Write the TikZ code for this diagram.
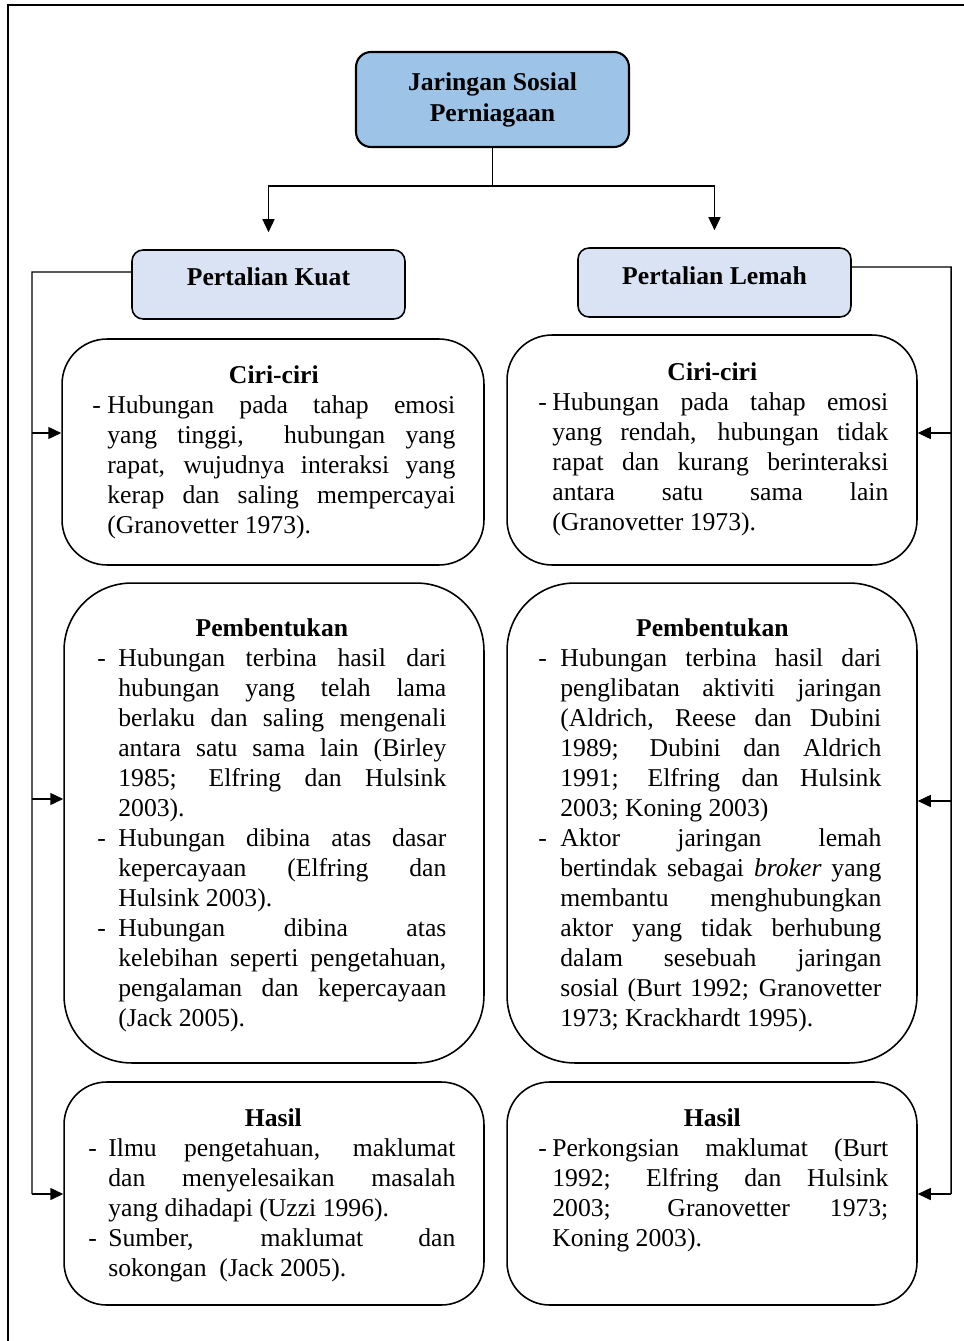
\documentclass[tikz,border=0pt]{standalone}
\usepackage{fontspec}
\setmainfont{Liberation Serif}
\usetikzlibrary{arrows.meta}
\newdimen\pxu \pxu=0.02cm
\newcommand{\jline}[2]{\makebox[#1\pxu][s]{#2}}
\newcommand{\dsh}[1]{\makebox[#1\pxu][l]{-}}
\newcommand{\ind}[1]{\hspace*{#1\pxu}}
\newcommand{\ttl}[2]{\makebox[#1\pxu][c]{\strut\bfseries #2}}
\definecolor{topblue}{HTML}{9DC3E6}
\definecolor{paleblue}{HTML}{DAE3F3}
\begin{document}
\begin{tikzpicture}[x=0.02cm,y=-0.02cm,
  fnt/.style={font=\fontsize{14.6}{17.07}\selectfont},
  conn/.style={draw=black,line width=0.85pt},
  arr/.style={conn,-{Triangle[length=0.26cm,width=0.24cm]}},
  topbox/.style={draw=black,line width=1.2pt,fill=topblue,rounded corners=0.3cm,minimum width=5.46cm,minimum height=1.9cm,align=center,fnt,font=\fontsize{14.6}{17.6}\selectfont\bfseries},
  pbox/.style={draw=black,line width=0.9pt,fill=paleblue,rounded corners=0.22cm,minimum width=5.46cm,minimum height=1.38cm},
  cbox/.style={draw=black,line width=0.9pt,rounded corners=#1},
  txt/.style={fnt,align=left,inner sep=0pt,anchor=north west}]
\useasboundingbox (0,0) rectangle (963,1341);
\draw[line width=1.2pt] (8,1360) -- (8,5) -- (980,5);

\node[topbox] (top) at (492.5,99.5) {Jaringan Sosial\\Perniagaan};

\node[pbox] (kuat) at (268.5,284.5) {};
\node[fnt,font=\fontsize{14.6}{17.07}\selectfont\bfseries] (kuatT) at (268.5,277) {Pertalian Kuat};
\node[pbox] (lemah) at (714.5,282.5) {};
\node[fnt,font=\fontsize{14.6}{17.07}\selectfont\bfseries] (lemahT) at (714.5,276) {Pertalian Lemah};

% content boxes
\node[cbox=0.9cm,minimum width=8.44cm,minimum height=4.52cm] (ciriL) at (273,452) {};
\node[cbox=1.35cm,minimum width=8.4cm,minimum height=9.6cm] (pembL) at (274,823) {};
\node[cbox=0.85cm,minimum width=8.4cm,minimum height=4.46cm] (hasilL) at (274,1193.5) {};
\node[cbox=0.9cm,minimum width=8.2cm,minimum height=4.6cm] (ciriR) at (712,450) {};
\node[cbox=1.35cm,minimum width=8.2cm,minimum height=9.6cm] (pembR) at (712,823) {};
\node[cbox=0.85cm,minimum width=8.2cm,minimum height=4.46cm] (hasilR) at (712,1193.5) {};

% texts
\node[txt] (tCL) at (92,362) {\ttl{363}{Ciri-ciri}\\
\dsh{15}\jline{348}{Hubungan pada tahap emosi}\\
\ind{15}\jline{348}{yang tinggi,\ \ hubungan yang}\\
\ind{15}\jline{348}{rapat, wujudnya interaksi yang}\\
\ind{15}\jline{348}{kerap dan saling mempercayai}\\
\ind{15}(Granovetter 1973).};

\node[txt] (tPL) at (97,615) {\ttl{349}{Pembentukan}\\
\dsh{21}\jline{328}{Hubungan terbina hasil dari}\\
\ind{21}\jline{328}{hubungan yang telah lama}\\
\ind{21}\jline{328}{berlaku dan saling mengenali}\\
\ind{21}\jline{328}{antara satu sama lain (Birley}\\
\ind{21}\jline{328}{1985; Elfring dan Hulsink}\\
\ind{21}2003).\\
\dsh{21}\jline{328}{Hubungan dibina atas dasar}\\
\ind{21}\jline{328}{kepercayaan (Elfring dan}\\
\ind{21}Hulsink 2003).\\
\dsh{21}\jline{328}{Hubungan dibina atas}\\
\ind{21}\jline{328}{kelebihan seperti pengetahuan,}\\
\ind{21}\jline{328}{pengalaman dan kepercayaan}\\
\ind{21}(Jack 2005).};

\node[txt] (tHL) at (88,1105) {\ttl{370}{Hasil}\\
\dsh{20}\jline{347}{Ilmu pengetahuan, maklumat}\\
\ind{20}\jline{347}{dan menyelesaikan masalah}\\
\ind{20}yang dihadapi (Uzzi 1996).\\
\dsh{20}\jline{347}{Sumber, maklumat dan}\\
\ind{20}sokongan\ \ (Jack 2005).};

\node[txt] (tCR) at (538,359) {\ttl{348}{Ciri-ciri}\\
\dsh{14}\jline{336}{Hubungan pada tahap emosi}\\
\ind{14}\jline{336}{yang rendah, hubungan tidak}\\
\ind{14}\jline{336}{rapat dan kurang berinteraksi}\\
\ind{14}\jline{336}{antara satu sama lain}\\
\ind{14}(Granovetter 1973).};

\node[txt] (tPR) at (538,615) {\ttl{348}{Pembentukan}\\
\dsh{22}\jline{321}{Hubungan terbina hasil dari}\\
\ind{22}\jline{321}{penglibatan aktiviti jaringan}\\
\ind{22}\jline{321}{(Aldrich, Reese dan Dubini}\\
\ind{22}\jline{321}{1989; Dubini dan Aldrich}\\
\ind{22}\jline{321}{1991; Elfring dan Hulsink}\\
\ind{22}2003; Koning 2003)\\
\dsh{22}\jline{321}{Aktor jaringan lemah}\\
\ind{22}\jline{321}{bertindak sebagai \textit{broker} yang}\\
\ind{22}\jline{321}{membantu menghubungkan}\\
\ind{22}\jline{321}{aktor yang tidak berhubung}\\
\ind{22}\jline{321}{dalam sesebuah jaringan}\\
\ind{22}\jline{321}{sosial (Burt 1992; Granovetter}\\
\ind{22}1973; Krackhardt 1995).};

\node[txt] (tHR) at (538,1105) {\ttl{348}{Hasil}\\
\dsh{14}\jline{336}{Perkongsian maklumat (Burt}\\
\ind{14}\jline{336}{1992; Elfring dan Hulsink}\\
\ind{14}\jline{336}{2003; Granovetter 1973;}\\
\ind{14}Koning 2003).};

% top connectors
\coordinate (split) at (492.5,186);
\draw[conn] (top.south) -- (split);
\draw[arr,shorten >=0.34cm] (split) -| (kuat.north);
\draw[arr,shorten >=0.34cm] (split) -| (lemah.north);

% left bus
\coordinate (lb0) at (32,272);
\coordinate (lb1) at (32,433);
\coordinate (lb2) at (32,799);
\coordinate (lb3) at (32,1194);
\draw[conn] ([yshift=0.25cm]kuat.west) -- (lb0) -- (lb3);
\draw[arr] (lb1) -- (lb1 -| ciriL.west);
\draw[arr] (lb2) -- (lb2 -| pembL.west);
\draw[arr] (lb3) -- (lb3 -| hasilL.west);

% right bus
\coordinate (rb0) at (951,267);
\coordinate (rb1) at (951,433);
\coordinate (rb2) at (951,801);
\coordinate (rb3) at (951,1194);
\draw[conn] ([yshift=0.31cm]lemah.east) -- (rb0) -- (rb3);
\draw[arr] (rb1) -- (rb1 -| ciriR.east);
\draw[arr] (rb2) -- (rb2 -| pembR.east);
\draw[arr] (rb3) -- (rb3 -| hasilR.east);
\end{tikzpicture}
\end{document}
